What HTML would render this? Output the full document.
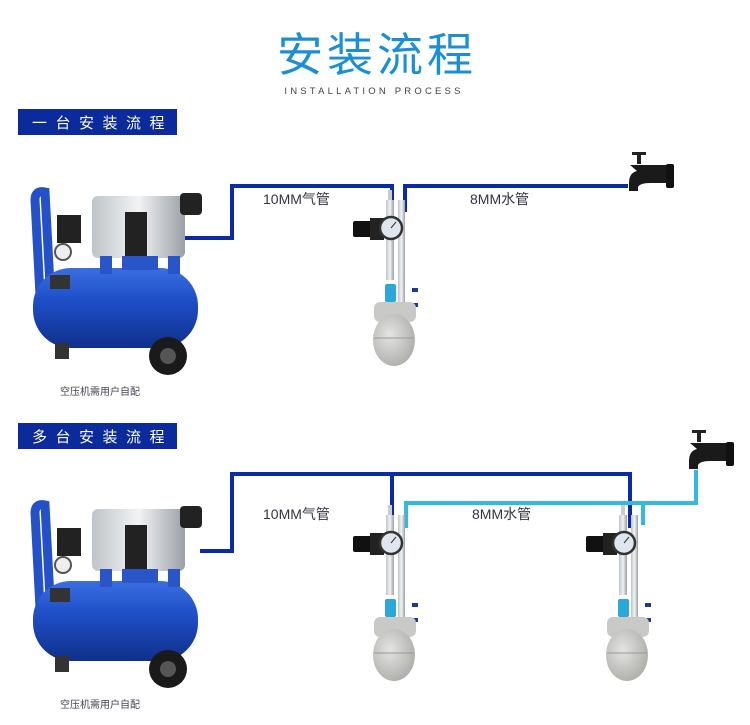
<!DOCTYPE html>
<html><head><meta charset="utf-8"><style>
html,body{margin:0;padding:0;background:#fff;width:750px;height:725px;overflow:hidden}
svg{display:block}
text{font-family:"Liberation Sans","Noto Sans CJK SC",sans-serif}
</style></head><body>
<svg width="750" height="725" viewBox="0 0 750 725" xmlns="http://www.w3.org/2000/svg">
<defs>
<linearGradient id="tank" x1="0" y1="0" x2="0" y2="1"><stop offset="0" stop-color="#3a6fe0"/><stop offset=".4" stop-color="#1f4fc8"/><stop offset="1" stop-color="#10308a"/></linearGradient>
<linearGradient id="metal" x1="0" y1="0" x2="1" y2="0"><stop offset="0" stop-color="#bfc4c8"/><stop offset=".5" stop-color="#f2f3f4"/><stop offset="1" stop-color="#9aa0a6"/></linearGradient>
<radialGradient id="ball" cx=".4" cy=".4" r=".7"><stop offset="0" stop-color="#e4e4e2"/><stop offset="1" stop-color="#a9a9a6"/></radialGradient>
<g id="comp">
 <path d="M40 295 L35 200 Q35 190 45 192 L50 285" fill="none" stroke="#2450c8" stroke-width="9"/>
 <rect x="33" y="268" width="165" height="80" rx="38" fill="url(#tank)"/>
 <rect x="55" y="343" width="14" height="16" fill="#333"/>
 <circle cx="168" cy="356" r="19" fill="#1a1a1a"/><circle cx="168" cy="356" r="8" fill="#555"/>
 <rect x="92" y="196" width="93" height="62" rx="6" fill="url(#metal)"/>
 <rect x="125" y="212" width="22" height="46" fill="#222"/>
 <rect x="180" y="193" width="22" height="22" rx="4" fill="#222"/>
 <rect x="100" y="256" width="12" height="18" fill="#2a55c8"/><rect x="168" y="256" width="12" height="18" fill="#2a55c8"/>
 <rect x="122" y="256" width="36" height="14" fill="#2a55c8"/>
 <rect x="57" y="215" width="24" height="28" fill="#222"/>
 <circle cx="63" cy="252" r="8" fill="#eee" stroke="#555" stroke-width="2"/>
 <rect x="50" y="275" width="20" height="14" fill="#333"/>
</g>
<g id="dev">
 <rect x="388" y="190" width="4" height="30" fill="#ccc"/>
 <rect x="386" y="200" width="8" height="80" fill="url(#metal)"/>
 <rect x="398" y="200" width="7" height="105" fill="url(#metal)"/>
 <rect x="353" y="221" width="20" height="16" rx="2" fill="#111"/>
 <rect x="370" y="218" width="14" height="22" fill="#222"/>
 <circle cx="391" cy="228" r="11" fill="#dfe6ee" stroke="#333" stroke-width="2.5"/>
 <line x1="391" y1="228" x2="396" y2="222" stroke="#333"/>
 <rect x="385" y="284" width="11" height="18" rx="2" fill="#2aa8d8"/>
 <rect x="412" y="288" width="6" height="4" fill="#1a3a9a"/><rect x="412" y="303" width="6" height="4" fill="#1a3a9a"/>
 <rect x="374" y="302" width="42" height="20" rx="6" fill="#c9c9c7"/>
 <ellipse cx="394" cy="340" rx="21" ry="26" fill="url(#ball)"/>
 <line x1="374" y1="338" x2="414" y2="338" stroke="#999" stroke-width="1"/>
</g>
<g id="tap">
 <rect x="632" y="152" width="14" height="3" fill="#222"/>
 <rect x="637" y="152" width="4" height="12" fill="#222"/>
 <path d="M630 165 h40 v18 h-20 q-10 0 -12 4 v4 h-9 v-8 q0 -10 8 -12 z" fill="#1a1a1a"/>
 <rect x="666" y="164" width="8" height="24" rx="2" fill="#111"/>
</g>
</defs>

<text x="377" y="71" text-anchor="middle" font-size="46" fill="#1a8fd8" letter-spacing="4">安装流程</text>
<text x="374" y="94" text-anchor="middle" font-size="9.5" fill="#444" letter-spacing="3.2">INSTALLATION PROCESS</text>

<rect x="18" y="109" width="159" height="26" fill="#0b2a9c"/>
<text x="32" y="128" font-size="15" fill="#fff" letter-spacing="8.5">一台安装流程</text>

<rect x="18" y="423" width="159" height="26" fill="#0b2a9c"/>
<text x="32" y="442" font-size="15" fill="#fff" letter-spacing="8.5">多台安装流程</text>

<use href="#comp"/>
<text x="60" y="395" font-size="10" fill="#445">空压机需用户自配</text>
<path d="M185 238 H232 V186 H392 V212" fill="none" stroke="#0a2aa8" stroke-width="4"/>
<path d="M405 212 V186 H628" fill="none" stroke="#0a2aa8" stroke-width="4"/>
<use href="#dev"/>
<use href="#tap"/>
<text x="263" y="204" font-size="14" fill="#334">10MM气管</text>
<text x="470" y="204" font-size="14" fill="#334">8MM水管</text>

<use href="#comp" transform="translate(0,313)"/>
<text x="60" y="708" font-size="10" fill="#445">空压机需用户自配</text>
<path d="M200 551 H232 V474 H630 V528" fill="none" stroke="#0a2aa8" stroke-width="4"/>
<path d="M392 474 V525" fill="none" stroke="#0a2aa8" stroke-width="4"/>
<path d="M406 528 V503 H696 V470" fill="none" stroke="#33b8e0" stroke-width="4"/>
<path d="M643 503 V525" fill="none" stroke="#33b8e0" stroke-width="4"/>
<use href="#dev" transform="translate(0,315)"/>
<use href="#dev" transform="translate(233,315)"/>
<use href="#tap" transform="translate(60,278)"/>
<text x="263" y="519" font-size="14" fill="#334">10MM气管</text>
<text x="472" y="519" font-size="14" fill="#334">8MM水管</text>
</svg>
</body></html>
